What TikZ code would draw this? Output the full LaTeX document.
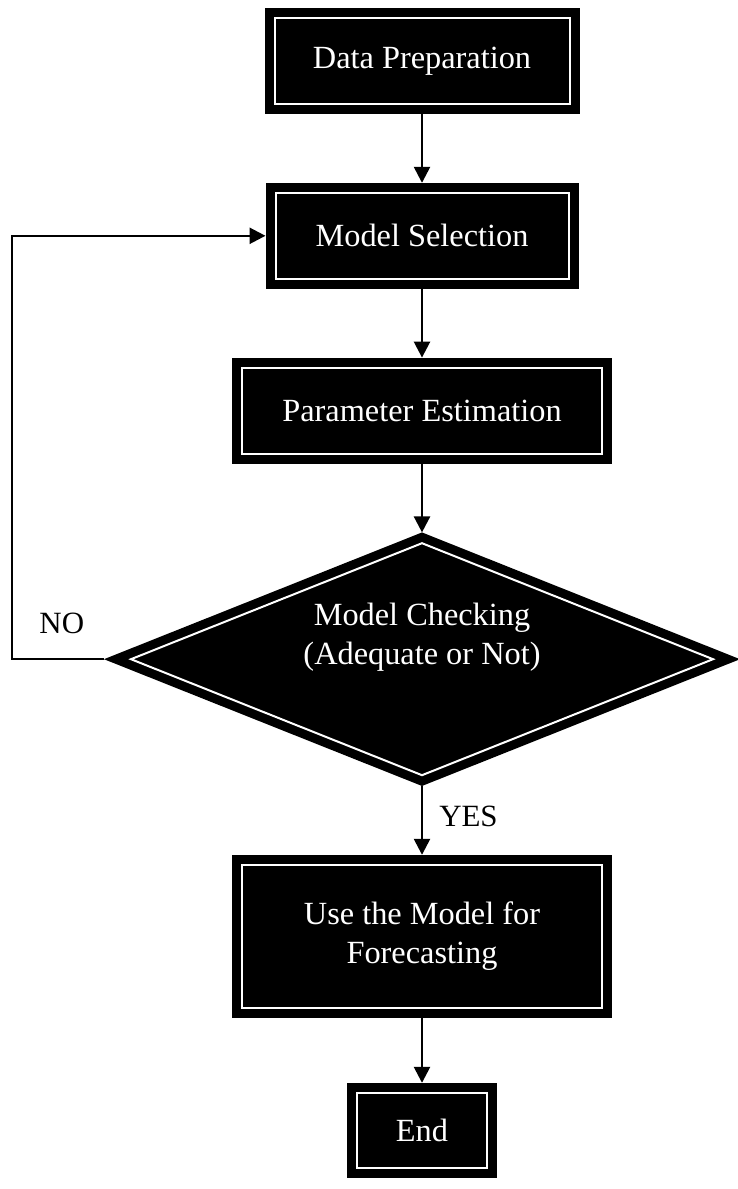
\documentclass[tikz,border=0pt]{standalone}
\usepackage{fontspec}
\setmainfont{Liberation Serif}
\usetikzlibrary{arrows.meta,positioning,shapes.geometric}

\begin{document}
\begin{tikzpicture}[auto,node distance=1.72cm,
    box/.style={rectangle,draw=black,fill=black,line width=0.225cm,double=white,double distance=0.05cm,
        outer sep=0.25cm,inner sep=0pt,minimum height=2.15cm,text=white,align=center,
        font=\fontsize{23}{28}\selectfont},
    dmd/.style={diamond,draw=black,fill=black,line width=0.225cm,double=white,double distance=0.05cm,
        outer sep=0pt,inner sep=0pt,minimum width=14.55cm,minimum height=5.8cm},
    txt/.style={text=white,align=center,font=\fontsize{23}{28}\selectfont},
    lbl/.style={inner sep=0pt,font=\fontsize{22}{26}\selectfont},
    conn/.style={-{Triangle[length=0.4cm,width=0.4cm]},line width=1.8pt}]

  \useasboundingbox (0,0) rectangle (18.45,-29.725);

  \node[box,minimum width=7.375cm] (prep) at (10.55,-1.525) {Data Preparation};
  \node[box,minimum width=7.325cm] (sel) [below =of prep] {Model Selection};
  \node[box,minimum width=9cm] (param) [below =of sel] {Parameter Estimation};
  \node[dmd] (chk) [below =1.99cm of param] {};
  \node[txt] (chkText) at ([yshift=0.55cm]chk.center) {Model Checking\\(Adequate or Not)};
  \node[box,minimum width=9cm,minimum height=3.575cm] (use) [below =1.99cm of chk] {Use the Model for\\Forecasting};
  \node[box,minimum width=3.25cm,minimum height=1.875cm] (end) [below =1.625cm of use] {End};

  \coordinate (lft) at (0.3,0 |- chk.west);

  \path[conn]
    (prep) edge (sel)
    (sel) edge (param)
    (param) edge ([yshift=0.27cm]chk.north)
    ([yshift=-0.27cm]chk.south) edge node[lbl,right=0.4cm,pos=0.44] (yes) {YES} (use)
    (use) edge (end);

  \draw[conn] ([xshift=-0.67cm]chk.west) -- node[lbl,above=0.6cm,pos=0.46] (no) {NO} (lft) |- (sel);

\end{tikzpicture}
\end{document}
